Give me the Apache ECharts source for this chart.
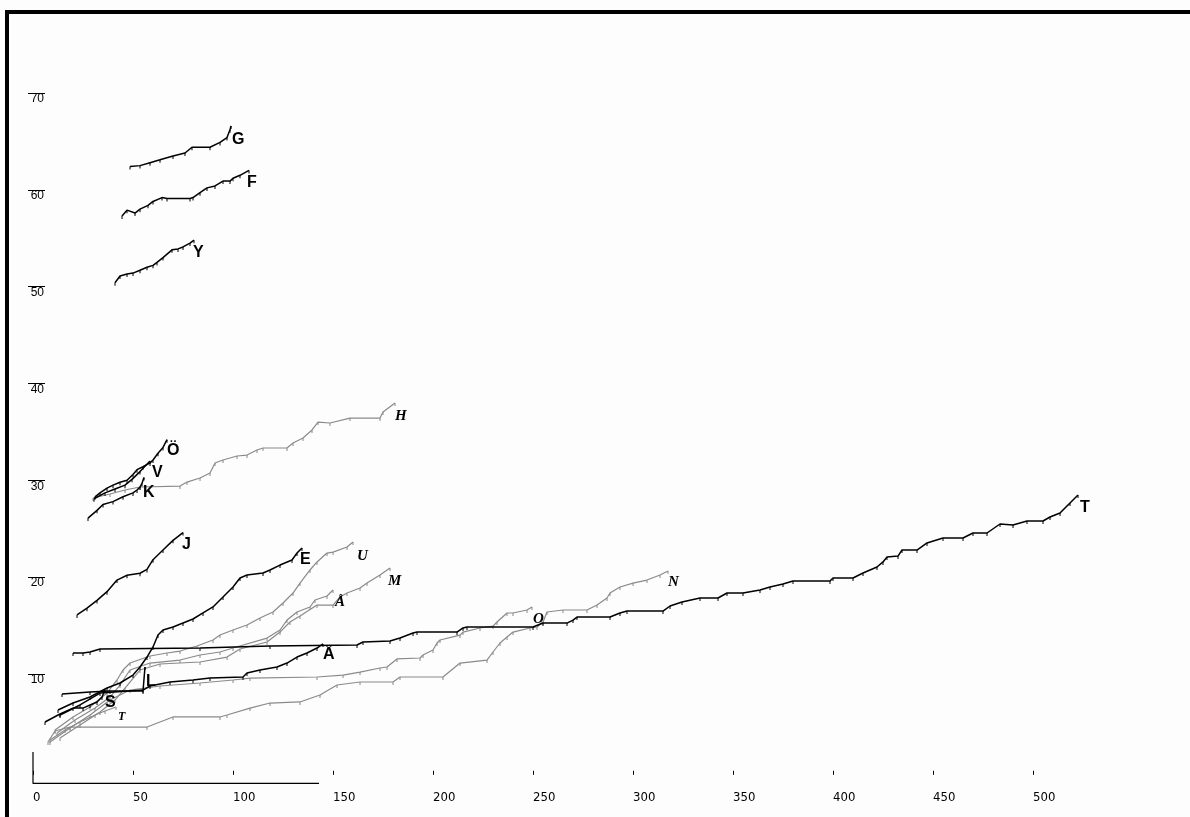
<!DOCTYPE html>
<html>
<head>
<meta charset="utf-8">
<title>Kumulatiiviset käyrät</title>
<script src="https://cdn.jsdelivr.net/npm/echarts@6/dist/echarts.min.js"></script>
<style>
  html, body { margin: 0; padding: 0; background: #fdfdfd; }
  #chart { width: 1190px; height: 817px; }
</style>
</head>
<body>
<div id="chart"></div>
<script>
// ---- tick values ----
const xTicks = [0, 50, 100, 150, 200, 250, 300, 350, 400, 450, 500];
const yTicks = [10, 20, 30, 40, 50, 60, 70];

// short axis stub at the origin: [x, y] pairs
const axisStub = [[143, -1.3], [0, -1.3], [0, 1.95]];

// ---- black curves ----
const curveG = [[48.5,62.4],[53.5,62.5],[58.5,62.8],[63.5,63.1],[70,63.5],[76,63.8],[79.5,64.4],[88.5,64.4],[93.5,64.9],[97,65.4],[98.5,66.2],[99,66.6]];
const curveF = [[44.5,57.3],[47,57.9],[51,57.6],[53.5,58.0],[57.5,58.4],[60,58.8],[64.5,59.2],[67,59.1],[78.5,59.1],[80,59.2],[83.5,59.7],[87,60.2],[91,60.4],[95,60.9],[98.5,60.9],[100,61.2],[103.5,61.5],[108,62.0]];
const curveY = [[41,50.4],[43.5,51.1],[47,51.3],[50,51.4],[53.5,51.7],[57,52.0],[60,52.2],[62,52.5],[65,53.0],[69.5,53.8],[72.5,53.9],[75,54.1],[78.5,54.5],[80.5,54.8]];
const curveOe = [[31,28.3],[33.5,28.7],[37,29.2],[40,29.5],[43.5,29.8],[47,30.0],[50,30.6],[52,31.1],[55,31.4],[58.5,31.8],[60,32.1],[62.5,32.8],[65,33.4],[67,34.2]];
const curveV = [[30.5,28.1],[36,28.7],[41,29.1],[46,29.5],[49.5,30.1],[53.5,30.9],[58.5,32.0]];
const curveK = [[27.5,26.1],[32,26.9],[35,27.5],[40,27.8],[45,28.3],[50,28.7],[52,29.0],[53.5,29.3],[54.5,29.7],[55.5,30.3]];
const curveJ = [[22,16.1],[27,16.8],[32,17.6],[37,18.5],[42,19.7],[47,20.2],[53.5,20.4],[57,20.8],[60,21.8],[65,22.8],[70,23.8],[75,24.6]];
const curveE = [[12.5,6.28],[20,7.0],[28.5,7.62],[37,8.55],[43.5,9.07],[50,9.89],[53.5,10.72],[57,11.75],[60,12.79],[62.5,14.02],[65,14.54],[70,14.85],[75,15.26],[80,15.68],[85,16.3],[90,16.92],[95,17.95],[100,18.98],[103.5,19.91],[107,20.22],[115,20.43],[118.5,20.74],[123.5,21.25],[129.5,21.77],[132,22.49],[134.5,23.01]];
const curveAe = [[13.5,5.76],[23.5,6.8],[33.5,8.03],[55,8.34],[58.5,8.76],[68.5,9.17],[80,9.38],[88.5,9.58],[105,9.69],[107,10.1],[113.5,10.41],[122,10.72],[127,11.13],[132,11.75],[137,12.17],[142,12.68],[145,13.1]];
const curveL = [[14.5,7.93],[28.5,8.14],[38.5,8.24],[55,8.24],[56,10.72]];
const curveS = [[6,5.04],[13.5,5.87],[20,6.48],[25,6.48],[28.5,6.8],[32,7.11],[34.5,7.62],[36,8.34]];
const curveT = [[20,12.17],[25,12.17],[28.5,12.27],[33.5,12.58],[83.5,12.68],[118.5,12.89],[162,12.99],[165,13.3],[178.5,13.4],[183.5,13.71],[190,14.23],[192,14.33],[212,14.33],[215,14.75],[217,14.85],[250,14.85],[255,15.26],[267,15.26],[270,15.57],[272,15.88],[288.5,15.88],[293.5,16.3],[297,16.5],[315,16.5],[318.5,17.02],[324.5,17.43],[333.5,17.85],[342.5,17.85],[347,18.36],[355,18.36],[363.5,18.67],[368.5,18.98],[375,19.29],[380,19.6],[398.5,19.6],[400,19.91],[410,19.91],[415,20.43],[422,21.05],[425,21.57],[427,22.08],[432.5,22.18],[434.5,22.8],[442,22.8],[447,23.53],[455,24.04],[465,24.04],[470,24.56],[477,24.56],[483.5,25.49],[490,25.39],[497,25.8],[505,25.8],[508.5,26.21],[513.5,26.62],[518.5,27.66],[522.5,28.48]];

// ---- grey curves ----
const curveH = [[30,28.17],[38.5,28.59],[46,29.0],[53.5,29.31],[73.5,29.41],[77,29.82],[83.5,30.24],[88.5,30.75],[91,31.79],[95,32.1],[102,32.51],[107,32.61],[112,33.13],[115,33.34],[127,33.34],[130,33.85],[135,34.37],[139.5,35.2],[142.5,36.02],[148.5,35.92],[158.5,36.43],[173.5,36.43],[175,37.05],[181,37.98]];
const curveU = [[11,4.21],[20,5.56],[28.5,6.59],[37,8.03],[42,9.38],[45,10.41],[48.5,11.13],[58.5,11.86],[67,12.17],[73.5,12.37],[82,12.89],[90,13.51],[93.5,14.02],[100,14.54],[107,15.06],[113.5,15.78],[120,16.4],[125,17.33],[130,18.36],[133.5,19.39],[138.5,20.74],[142,21.57],[147,22.49],[150,22.59],[157,23.11],[160,23.63]];
const curveAa = [[12,3.9],[21,5.25],[31,6.48],[38.5,7.62],[43.5,8.86],[48.5,10.41],[58.5,11.13],[73.5,11.44],[83.5,11.96],[93.5,12.27],[100,12.68],[117,13.71],[123.5,14.54],[127,15.57],[132,16.4],[138.5,16.92],[141,17.64],[147,18.05],[150,18.67]];
const curveM = [[13.5,3.39],[23.5,4.73],[33.5,6.07],[41,7.31],[46,8.55],[53.5,10.41],[63.5,11.03],[83.5,11.24],[97,11.75],[103.5,12.58],[117,13.3],[123.5,14.33],[128.5,15.37],[133.5,15.99],[142,17.12],[150,17.12],[153.5,17.95],[157,18.36],[163.5,18.88],[167,19.39],[173.5,20.22],[178.5,20.94]];
const curveO = [[8.5,2.97],[18.5,4.42],[28.5,5.76],[38.5,7.31],[48.5,8.34],[63.5,8.76],[83.5,9.07],[100,9.38],[108.5,9.58],[142,9.69],[155,9.89],[163.5,10.2],[173.5,10.62],[177,10.72],[182,11.55],[193.5,11.65],[195,11.96],[200,12.48],[202,13.2],[203.5,13.51],[213.5,14.02],[215,14.33],[223.5,14.75],[230,14.95],[232,15.37],[237,16.3],[240,16.3],[247,16.61],[249.5,16.92]];
const curveN = [[7.5,2.97],[11,4.11],[18.5,4.52],[57,4.52],[70,5.56],[93.5,5.56],[97,5.76],[108.5,6.48],[118.5,7.0],[133.5,7.11],[143.5,7.83],[152,8.86],[163.5,9.17],[180,9.17],[183.5,9.69],[205,9.69],[213.5,11.13],[227,11.44],[230,12.27],[233.5,13.2],[237,13.82],[240,14.33],[248.5,14.75],[252,14.85],[255,15.37],[257,16.4],[265,16.61],[277,16.61],[282,17.12],[287,17.85],[288.5,18.36],[293.5,18.98],[300,19.39],[307,19.7],[313.5,20.22],[317.5,20.63]];
const curveTg = [[8.5,3.18],[16,4.21],[23.5,5.04],[31,5.76],[36,6.18],[41.5,6.59]];

// ---- series table: label letter, data, tone ----
const curves = [
  { id: 'G', label: 'G', data: curveG, tone: 'black' },
  { id: 'F', label: 'F', data: curveF, tone: 'black' },
  { id: 'Y', label: 'Y', data: curveY, tone: 'black' },
  { id: 'Oe', label: 'Ö', data: curveOe, tone: 'black' },
  { id: 'V', label: 'V', data: curveV, tone: 'black' },
  { id: 'K', label: 'K', data: curveK, tone: 'black' },
  { id: 'J', label: 'J', data: curveJ, tone: 'black' },
  { id: 'E', label: 'E', data: curveE, tone: 'black' },
  { id: 'Ae', label: 'Ä', data: curveAe, tone: 'black' },
  { id: 'L', label: 'L', data: curveL, tone: 'black' },
  { id: 'S', label: 'S', data: curveS, tone: 'black' },
  { id: 'T', label: 'T', data: curveT, tone: 'black' },
  { id: 'H', label: 'H', data: curveH, tone: 'grey' },
  { id: 'U', label: 'U', data: curveU, tone: 'grey' },
  { id: 'Aa', label: 'Å', data: curveAa, tone: 'grey' },
  { id: 'M', label: 'M', data: curveM, tone: 'grey' },
  { id: 'O', label: 'O', data: curveO, tone: 'grey' },
  { id: 'N', label: 'N', data: curveN, tone: 'grey' },
  { id: 'Tg', label: 'T', data: curveTg, tone: 'grey' }
];

// label placement next to each curve's last point, in pixels
const labelOffsets = {
  G: [1, 6], F: [-2, 4], Y: [-1, 4], Oe: [0, 3], V: [2, 4], K: [-1, 7],
  J: [-1, 4], E: [-2, 4], Ae: [0, 3], L: [1, 7], S: [0, 5], T: [2, 5],
  H: [0, 6], U: [4, 7], Aa: [2, 5], M: [-2, 6], O: [1, 5], N: [0, 4], Tg: [2, 4]
};

const tones = {
  black: { color: '#000000', width: 1.5,
           font: { fontFamily: "'Liberation Sans', Arial, sans-serif", fontWeight: 'bold', fontStyle: 'normal', fontSize: 16 } },
  grey:  { color: '#8a8a8a', width: 1.2,
           font: { fontFamily: "'Liberation Serif', 'Times New Roman', serif", fontWeight: 'bold', fontStyle: 'italic', fontSize: 15 } }
};

const series = curves.map(c => {
  const t = tones[c.tone];
  const font = Object.assign({}, t.font, c.id === 'Tg' ? { fontSize: 12 } : {});
  return {
    id: c.id,
    name: c.label,
    type: 'line',
    data: c.data,
    symbol: 'rect',
    symbolSize: [1, 3],
    symbolOffset: [0, 1.5],
    showSymbol: true,
    itemStyle: { color: t.color },
    lineStyle: { color: t.color, width: t.width },
    emphasis: { disabled: true },
    silent: true,
    z: c.tone === 'black' ? 3 : 2,
    endLabel: Object.assign({
      show: true,
      formatter: c.label,
      color: '#000000',
      align: 'left',
      verticalAlign: 'top',
      distance: 0,
      offset: labelOffsets[c.id]
    }, font)
  };
});

// origin stub drawn through the same scales
series.push({
  id: 'axisStub',
  type: 'line',
  data: axisStub,
  symbol: 'none',
  clip: false,
  silent: true,
  lineStyle: { color: '#000000', width: 1.2 },
  z: 1
});

const chart = echarts.init(document.getElementById('chart'), null, { renderer: 'canvas' });
chart.setOption({
  animation: false,
  backgroundColor: '#fdfdfd',
  grid: { left: 33, width: 1060, top: 93, height: 690.4 },
  xAxis: {
    type: 'value', min: 0, max: 530,
    splitLine: { show: false },
    axisLine: { show: false },
    axisTick: { show: true, customValues: xTicks, length: 4, lineStyle: { color: '#000', width: 1 } },
    axisLabel: {
      customValues: xTicks, align: 'left', margin: 8,
      color: '#000', fontSize: 13,
      fontFamily: "'Liberation Sans Narrow', 'DejaVu Sans Condensed', sans-serif"
    }
  },
  yAxis: {
    type: 'value', min: -1.3, max: 70,
    offset: -12,
    splitLine: { show: false },
    axisLine: { show: false },
    axisTick: { show: true, customValues: yTicks, length: 17, lineStyle: { color: '#000', width: 1 } },
    axisLabel: {
      customValues: yTicks, margin: 1, align: 'right', verticalAlign: 'top',
      color: '#000', fontSize: 12,
      fontFamily: "'Liberation Sans', Arial, sans-serif"
    }
  },
  graphic: [
    { type: 'rect', left: 5, top: 10, shape: { width: 4, height: 807 }, style: { fill: '#000' }, silent: true },
    { type: 'rect', left: 5, top: 10, shape: { width: 1185, height: 4 }, style: { fill: '#000' }, silent: true }
  ],
  series: series
});
</script>
</body>
</html>
